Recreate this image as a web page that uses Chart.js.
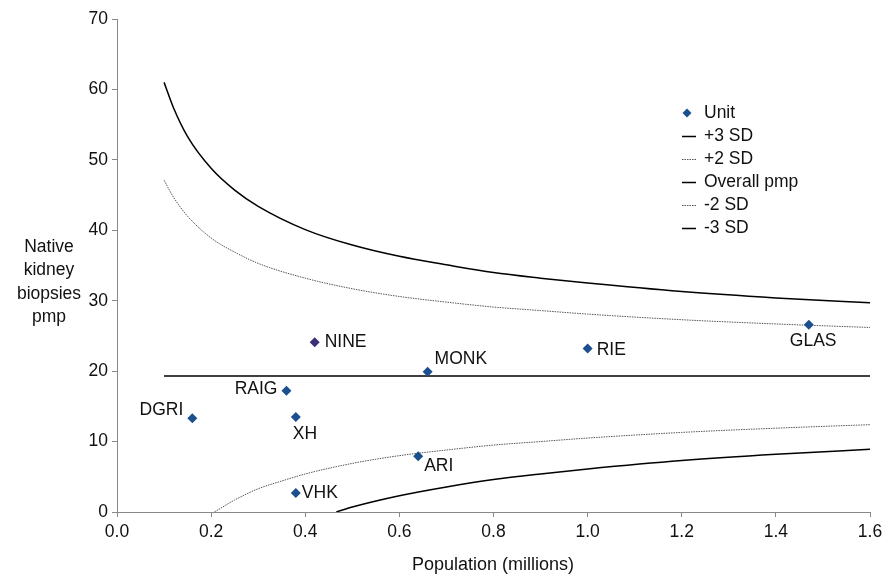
<!DOCTYPE html>
<html>
<head>
<meta charset="utf-8">
<script src="https://cdn.jsdelivr.net/npm/chart.js@4/dist/chart.umd.min.js"></script>
<style>
html,body{margin:0;padding:0;background:#fff;}
#wrap{width:884px;height:579px;position:relative;}
</style>
</head>
<body>
<div id="wrap"><canvas id="c" width="884" height="579"></canvas></div>
<script>
// ---- Data ----
const unitNames = ["DGRI","RAIG","XH","VHK","NINE","MONK","ARI","RIE","GLAS"];
const unitPop   = [0.16, 0.36, 0.38, 0.38, 0.42, 0.66, 0.64, 1.00, 1.47];
const unitRate  = [13.3, 17.2, 13.5, 2.7, 24.1, 19.9, 7.9, 23.2, 26.6];

const upperX  = [0.1,0.12,0.15,0.2,0.25,0.3,0.4,0.5,0.6,0.7,0.8,0.9,1.0,1.2,1.4,1.6];
const plus3Y  = [61.0,57.4,53.3,48.8,45.7,43.4,40.1,37.9,36.3,35.1,34.0,33.2,32.5,31.3,30.4,29.7];
const plus2Y  = [47.1,44.7,42.0,38.9,36.9,35.3,33.2,31.7,30.6,29.8,29.1,28.6,28.1,27.3,26.7,26.2];
const overallX = [0.1, 1.6];
const overallY = [19.3, 19.3];
const minus2X = [0.207,0.25,0.3,0.35,0.4,0.5,0.6,0.7,0.8,0.9,1.0,1.2,1.4,1.6];
const minus2Y = [0,1.7,3.3,4.4,5.4,6.9,8.0,8.8,9.5,10.0,10.5,11.3,11.9,12.4];
const minus3X = [0.466,0.5,0.6,0.7,0.8,0.9,1.0,1.2,1.4,1.6];
const minus3Y = [0,0.7,2.3,3.55,4.6,5.4,6.1,7.3,8.2,8.9];

const seriesNames = ["Unit","+3 SD","+2 SD","Overall pmp","-2 SD","-3 SD"];
const yTitleLines = ["Native","kidney","biopsies","pmp"];
const xTitle = "Population (millions)";

// ---- styling (not data) ----
const FONT = '"Liberation Sans", Arial, sans-serif';
const FS = 17.5;
const labelOffsets = {
  DGRI:{dx:-9,dy:-8,align:'right'}, RAIG:{dx:-9,dy:-2,align:'right'},
  XH:{dx:-3,dy:17,align:'left'}, VHK:{dx:6,dy:0,align:'left'},
  NINE:{dx:10,dy:0,align:'left'}, MONK:{dx:7,dy:-13,align:'left'},
  ARI:{dx:6,dy:10,align:'left'}, RIE:{dx:9,dy:2,align:'left'},
  GLAS:{dx:-19,dy:17,align:'left'}
};
const pts = (xs, ys) => xs.map((x,i)=>({x:x, y:ys[i]}));

const unitColors = unitNames.map(n => n==="NINE" ? "#3a2f78" : "#1c4f8e");

const lineStyle = (label, xs, ys, dotted) => ({
  label, type:'scatter', data: pts(xs,ys), showLine:true,
  borderColor: dotted ? '#555' : '#000', borderWidth: dotted ? 1 : 1.5,
  borderDash: dotted ? [1.5,1] : [], pointRadius:0, pointHoverRadius:0,
  cubicInterpolationMode:'monotone', fill:false
});

const labelsPlugin = {
  id:'extras',
  afterDatasetsDraw(chart){
    const ctx = chart.ctx;
    const meta = chart.getDatasetMeta(0);
    ctx.save();
    ctx.font = FS + 'px ' + FONT;
    ctx.fillStyle = '#111';
    ctx.textBaseline = 'middle';
    meta.data.forEach((el,i)=>{
      const o = labelOffsets[unitNames[i]];
      ctx.textAlign = o.align;
      ctx.fillText(unitNames[i], el.x + o.dx, el.y + o.dy);
    });
    // legend
    const lx = 682, tx = 704, y0 = 113, step = 23;
    seriesNames.forEach((name,i)=>{
      const y = y0 + i*step;
      if(i===0){
        ctx.fillStyle = '#1c4f8e';
        ctx.beginPath();
        ctx.moveTo(lx+5, y-4.5); ctx.lineTo(lx+9.5, y); ctx.lineTo(lx+5, y+4.5); ctx.lineTo(lx+0.5, y);
        ctx.closePath(); ctx.fill();
      } else {
        const dotted = (i===2 || i===4);
        ctx.strokeStyle = dotted ? '#555' : '#000';
        ctx.lineWidth = dotted ? 1 : 1.5;
        ctx.setLineDash(dotted ? [1.5,1] : []);
        ctx.beginPath(); ctx.moveTo(lx, y+0.5); ctx.lineTo(lx+14, y+0.5); ctx.stroke();
        ctx.setLineDash([]);
      }
      ctx.fillStyle = '#111';
      ctx.textAlign = 'left';
      ctx.fillText(name, tx, y);
    });
    // y title
    ctx.textAlign = 'center';
    yTitleLines.forEach((t,i)=> ctx.fillText(t, 49, 247 + i*23.5));
    // x title
    ctx.font = '18px ' + FONT;
    ctx.fillText(xTitle, 493, 565);
    ctx.restore();
  }
};

new Chart(document.getElementById('c'), {
  type:'scatter',
  data:{
    datasets:[
      { label:seriesNames[0], data: pts(unitPop, unitRate), pointStyle:'rectRot',
        pointRadius:5, pointHoverRadius:5, backgroundColor: unitColors, borderColor: unitColors, borderWidth:0 },
      lineStyle(seriesNames[1], upperX, plus3Y, false),
      lineStyle(seriesNames[2], upperX, plus2Y, true),
      lineStyle(seriesNames[3], overallX, overallY, false),
      lineStyle(seriesNames[4], minus2X, minus2Y, true),
      lineStyle(seriesNames[5], minus3X, minus3Y, false)
    ]
  },
  options:{
    responsive:false, animation:false,
    layout:{padding:{top:19, right:14, bottom:0, left:0}},
    plugins:{legend:{display:false}, tooltip:{enabled:false}},
    scales:{
      x:{ type:'linear', min:0, max:1.6,
        ticks:{stepSize:0.2, color:'#111', font:{family:FONT, size:FS}, padding:5,
          callback:v=>Number(v).toFixed(1)},
        grid:{drawOnChartArea:false, color:'#888', tickLength:5},
        border:{color:'#888', width:1},
        afterFit(s){ s.height = 67; s.paddingLeft = 0; s.paddingRight = 0; }
      },
      y:{ min:0, max:70,
        ticks:{stepSize:10, color:'#111', font:{family:FONT, size:FS}, padding:4},
        grid:{drawOnChartArea:false, color:'#888', tickLength:5},
        border:{color:'#888', width:1},
        afterFit(s){ s.width = 117; s.paddingTop = 0; s.paddingBottom = 0; }
      }
    }
  },
  plugins:[labelsPlugin]
});
</script>
</body>
</html>
